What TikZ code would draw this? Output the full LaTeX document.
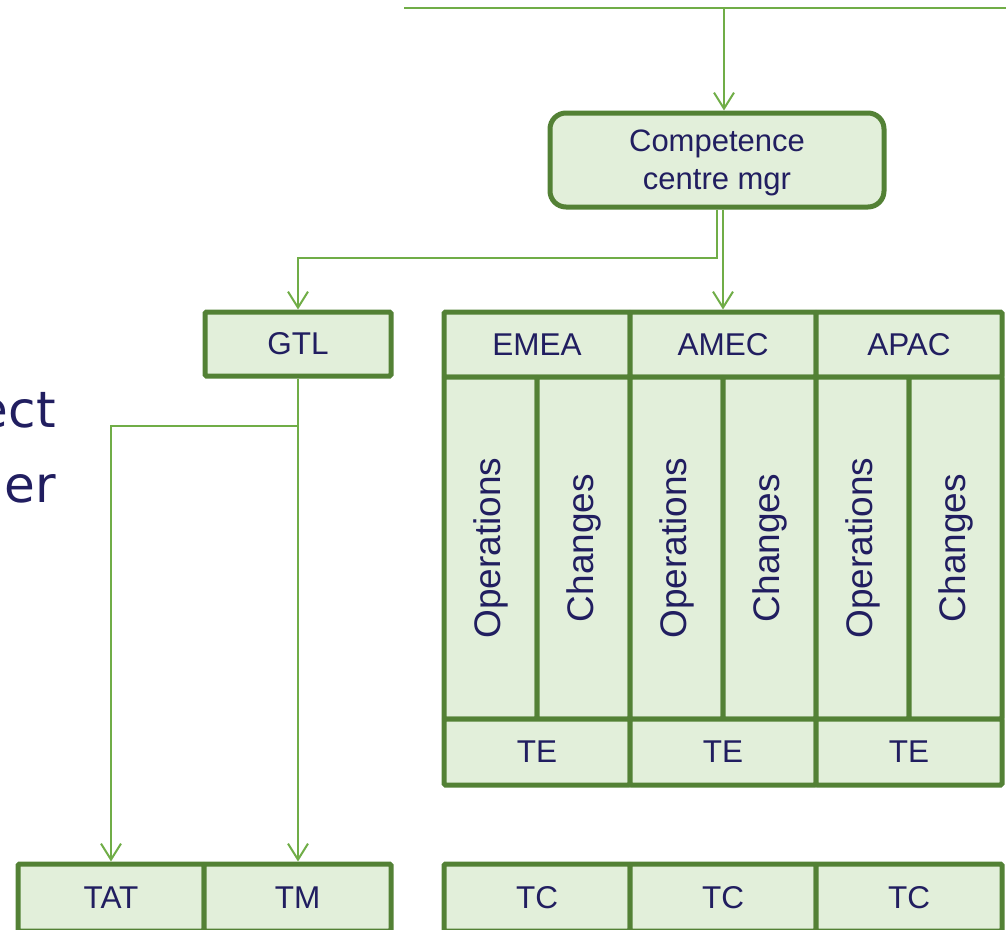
\documentclass[tikz,border=0pt]{standalone}
\usepackage{fontspec}
\setmainfont{Liberation Sans}
\newfontfamily\titlefont{DejaVu Sans}
\usetikzlibrary{arrows.meta}

\definecolor{boxfill}{RGB}{226,239,218}
\definecolor{boxline}{RGB}{83,129,53}
\definecolor{wire}{RGB}{112,173,71}
\definecolor{ink}{RGB}{33,30,96}

\tikzset{
  cell/.style={draw=boxline, fill=boxfill, line width=5pt, inner sep=0pt,
    rounded corners=1.5pt, text=ink, font=\fontsize{31.5}{38}\selectfont},
  vcell/.style={cell, rotate=90, minimum width=342pt, minimum height=93pt,
    font=\fontsize{37}{44}\selectfont},
  hcell/.style={cell, minimum width=186pt, minimum height=65pt},
  wirestyle/.style={draw=wire, line width=2pt},
  arr/.style={wirestyle, -{Straight Barb[length=16pt,width=20pt]}},
}

\begin{document}
\begin{tikzpicture}[x=1pt, y=-1pt]
\useasboundingbox (0,0) rectangle (1006,929);

% partial title text on the left
\node[anchor=base east, inner sep=0pt, text=ink,
  font=\titlefont\fontsize{50}{75}\selectfont] (ect) at (56,427) {ect};
\node[anchor=base east, inner sep=0pt, text=ink,
  font=\titlefont\fontsize{50}{75}\selectfont] (er) at (56,502) {er};

% manager box
\node[cell, rounded corners=16pt, minimum width=334pt, minimum height=94pt]
  (cc) at (717,160) {};
\node[align=center, inner sep=0pt, text=ink, font=\fontsize{31}{38}\selectfont]
  (cctext) at (717,163) {Competence\\centre mgr};

% GTL
\node[hcell, minimum height=64pt] (gtl) at (298,344) {GTL};

% regional grid: headers
\node[hcell] (emea) at (537,344.5) {EMEA};
\node[hcell] (amec) at (723,344.5) {AMEC};
\node[hcell] (apac) at (909,344.5) {APAC};

% regional grid: operations / changes columns
\node[vcell] (opsA) at (490.5,548) {Operations};
\node[vcell] (chgA) at (583.5,548) {Changes};
\node[vcell] (opsB) at (676.5,548) {Operations};
\node[vcell] (chgB) at (769.5,548) {Changes};
\node[vcell] (opsC) at (862.5,548) {Operations};
\node[vcell] (chgC) at (955.5,548) {Changes};

% regional grid: TE row
\node[hcell, minimum height=66pt] (teA) at (537,752) {TE};
\node[hcell, minimum height=66pt] (teB) at (723,752) {TE};
\node[hcell, minimum height=66pt] (teC) at (909,752) {TE};

% bottom rows
\node[hcell, minimum height=67pt] (tat) at (111,897.5) {TAT};
\node[hcell, minimum width=187pt, minimum height=67pt] (tm) at (297.5,897.5) {TM};
\node[hcell, minimum height=67pt] (tcA) at (537,897.5) {TC};
\node[hcell, minimum height=67pt] (tcB) at (723,897.5) {TC};
\node[hcell, minimum height=67pt] (tcC) at (909,897.5) {TC};

% connectors
\coordinate (busL) at (404,8);
\coordinate (busR) at (1010,8);
\coordinate (busJ) at (724,8);
\draw[wirestyle] (busL) -- (busR);
\draw[arr] (busJ) -- (busJ |- cc.north);

\draw[arr] (cc.south) -- (cc.south |- 0,258) -| (gtl.north);
\draw[arr] (amec.north |- cc.south) -- (amec.north);

\draw[arr] (gtl.south) -- (gtl.south |- tm.north);
\draw[arr] (gtl.south |- 0,426) -| (tat.north);
\end{tikzpicture}
\end{document}
